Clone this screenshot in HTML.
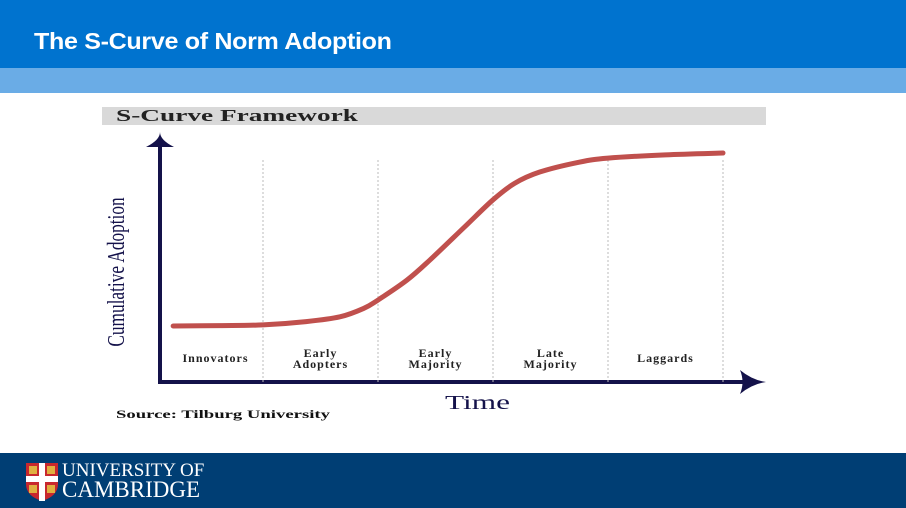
<!DOCTYPE html>
<html><head><meta charset="utf-8"><style>
body{margin:0;width:906px;height:508px;overflow:hidden;background:#fff;font-family:"Liberation Sans",sans-serif;position:relative}
.hdr{position:absolute;left:0;top:0;width:906px;height:68px;background:#0073cf}
.hdr h1{position:absolute;left:34px;top:28px;margin:0;font-size:23px;font-weight:bold;color:#fff;letter-spacing:-0.3px;transform:scaleX(1.09);transform-origin:left}
.sub{position:absolute;left:0;top:68px;width:906px;height:25px;background:#6aace6}
.ftr{position:absolute;left:0;top:453px;width:906px;height:55px;background:#003e74}
.logo-t{position:absolute;left:62px;color:#fff;font-family:"Liberation Serif",serif}
</style></head><body>
<div class="hdr"><h1>The S-Curve of Norm Adoption</h1></div>
<div class="sub"></div>
<svg id="chart" width="906" height="508" style="position:absolute;left:0;top:0">
<rect x="102" y="107" width="664" height="18" fill="#d9d9d9"/>
<text x="116" y="121" textLength="242" lengthAdjust="spacingAndGlyphs" font-family="Liberation Serif,serif" font-weight="bold" font-size="17" fill="#222">S-Curve Framework</text>
<line x1="160" y1="145" x2="160" y2="383" stroke="#14124a" stroke-width="4"/>
<path d="M146 147 Q160 140 160 132 Q160 140 174 147 Z" fill="#14124a"/>
<line x1="158" y1="382" x2="745" y2="382" stroke="#14124a" stroke-width="4"/>
<path d="M740 370 Q745 382 740 394 Q752 384 766 382 Q752 380 740 370 Z" fill="#14124a"/>
<text transform="translate(124,272) rotate(-90) scale(0.72,1)" text-anchor="middle" font-family="Liberation Serif,serif" font-size="24" fill="#14124a">Cumulative Adoption</text>
<text x="445" y="409" textLength="65" lengthAdjust="spacingAndGlyphs" font-family="Liberation Serif,serif" font-size="20" fill="#14124a">Time</text>
<text x="116" y="418" textLength="214" lengthAdjust="spacingAndGlyphs" font-family="Liberation Serif,serif" font-weight="bold" font-size="12" fill="#111">Source: Tilburg University</text>
<g id="plot"></g>
</svg>
<div class="ftr">
<svg width="36" height="40" style="position:absolute;left:25px;top:9px">
<path d="M1 1H33V22Q33 34 17 39Q1 34 1 22Z" fill="#c8282e"/>
<rect x="14" y="1" width="6" height="38" fill="#fff"/><rect x="1" y="14" width="32" height="6" fill="#fff"/>
<rect x="4" y="4" width="8" height="8" fill="#e0b040"/><rect x="22" y="4" width="8" height="8" fill="#e0b040"/>
<rect x="4" y="23" width="8" height="8" fill="#e0b040"/><rect x="22" y="23" width="8" height="8" fill="#e0b040"/>
</svg>
<div class="logo-t" style="top:7px;font-size:19px">UNIVERSITY OF</div>
<div class="logo-t" style="top:24px;font-size:23px">CAMBRIDGE</div>
</div>
<script>
const segments=["Innovators","Early|Adopters","Early|Majority","Late|Majority","Laggards"];
const boundaries=[0,16,32,48,64,80];
const times=[3.5,10,16,22,26.7,30,32,36,39.2,44,48,51,54.5,60,64,72,80];
const adoption=[0,0.1,0.3,1.2,2.5,4.8,7.1,12.5,18,27,34.5,39,42.1,44.8,45.9,46.8,47.3];
const ns="http://www.w3.org/2000/svg";
const X=t=>148+(723-148)*t/80;
const Y=v=>326-(326-153)*v/47.3;
const g=document.getElementById('plot');
for(let i=1;i<boundaries.length;i++){
  const l=document.createElementNS(ns,'line');
  const x=X(boundaries[i]);
  l.setAttribute('x1',x);l.setAttribute('x2',x);l.setAttribute('y1',160);l.setAttribute('y2',382);
  l.setAttribute('stroke','#bbb');l.setAttribute('stroke-dasharray','2,2');l.setAttribute('stroke-width','1');
  
  
  g.appendChild(l);
}
segments.forEach((s,i)=>{
  const x0=i==0?160:X(boundaries[i]);const cx=(x0+X(boundaries[i+1]))/2+(i==0?4:0);
  const parts=s.split('|');
  const t=document.createElementNS(ns,'text');
  t.setAttribute('text-anchor','middle');t.setAttribute('font-family','Liberation Serif,serif');
  t.setAttribute('font-size','12');t.setAttribute('font-weight','bold');t.setAttribute('fill','#222');t.setAttribute('letter-spacing','1');
  
  
  parts.forEach((p,j)=>{const ts=document.createElementNS(ns,'tspan');ts.setAttribute('x',cx);
    ts.setAttribute('y',parts.length==1?362:357+j*11);ts.textContent=p;t.appendChild(ts);});
  g.appendChild(t);
});
const pts=times.map((t,i)=>[X(t),Y(adoption[i])]);
let d='M'+pts[0].join(' ');
for(let i=0;i<pts.length-1;i++){
  const p0=pts[Math.max(0,i-1)],p1=pts[i],p2=pts[i+1],p3=pts[Math.min(pts.length-1,i+2)];
  d+=` C${p1[0]+(p2[0]-p0[0])/6} ${p1[1]+(p2[1]-p0[1])/6} ${p2[0]-(p3[0]-p1[0])/6} ${p2[1]-(p3[1]-p1[1])/6} ${p2[0]} ${p2[1]}`;
}
const c=document.createElementNS(ns,'path');
c.setAttribute('d',d);c.setAttribute('fill','none');c.setAttribute('stroke','#c0504d');c.setAttribute('stroke-width','5');c.setAttribute('stroke-linecap','round');


g.appendChild(c);
</script>
</body></html>
